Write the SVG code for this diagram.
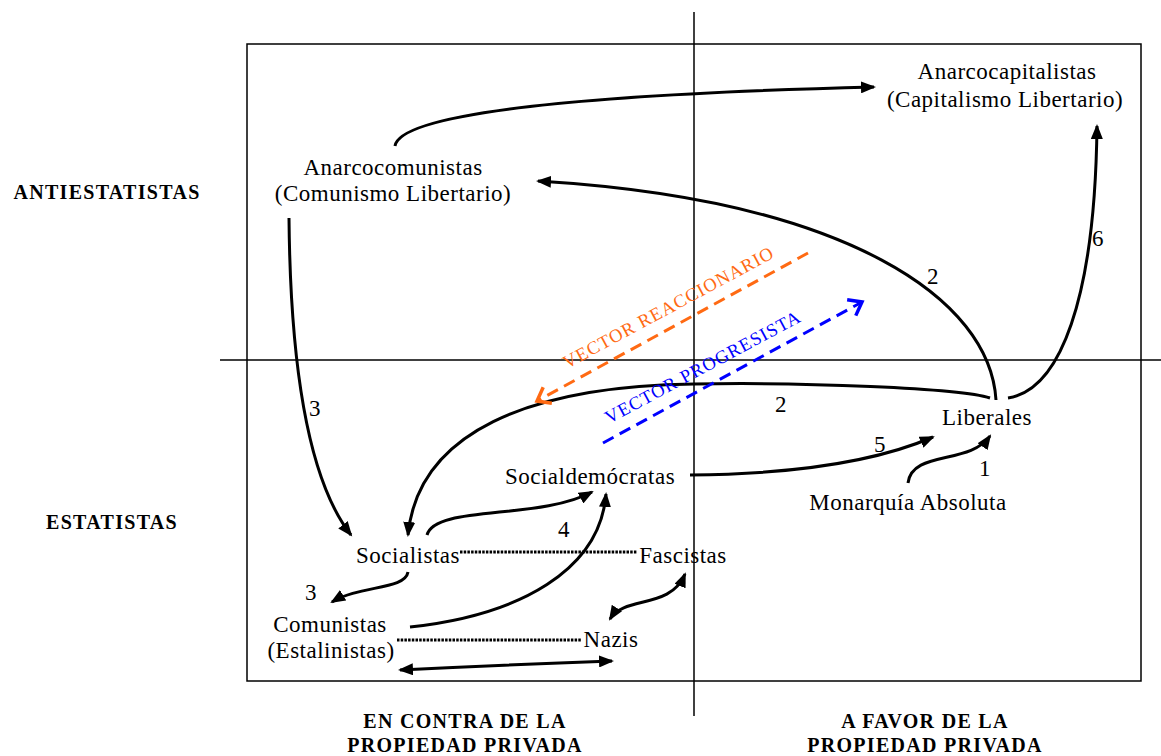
<svg xmlns="http://www.w3.org/2000/svg" width="1161" height="756" viewBox="0 0 1161 756">
<style>
.t{font-family:"Liberation Serif","Times New Roman",serif;font-size:23px;letter-spacing:0.5px;fill:#000;text-anchor:middle}
.b{font-family:"Liberation Serif","Times New Roman",serif;font-size:20px;font-weight:bold;letter-spacing:1.3px;fill:#000;text-anchor:middle}
.v{font-family:"Liberation Serif","Times New Roman",serif;font-size:18.5px;letter-spacing:1px}
.ax{stroke:#000;stroke-width:1.5;fill:none}
.a{stroke:#000;stroke-width:3;fill:none;marker-end:url(#ah)}
.d{stroke:#000;stroke-width:3;fill:none;marker-start:url(#ah);marker-end:url(#ah)}
.dot{stroke:#000;stroke-width:3;stroke-dasharray:2.5 1.2;fill:none}
</style>
<defs>
<marker id="ah" markerUnits="userSpaceOnUse" markerWidth="16" markerHeight="12" refX="13" refY="6" orient="auto-start-reverse">
<path d="M0,0 L15,6 L0,12 z" fill="#000"/>
</marker>
<marker id="co" markerUnits="userSpaceOnUse" markerWidth="18" markerHeight="22" refX="14" refY="11" orient="auto">
<path d="M2,2 L14,11 L2,20" fill="none" stroke="#FF6A13" stroke-width="3.5"/>
</marker>
<marker id="cb" markerUnits="userSpaceOnUse" markerWidth="18" markerHeight="22" refX="14" refY="11" orient="auto">
<path d="M2,2 L14,11 L2,20" fill="none" stroke="#0000FF" stroke-width="3.5"/>
</marker>
</defs>
<rect width="1161" height="756" fill="#fff"/>
<g id="frame">
<rect x="247" y="44" width="894" height="637" class="ax"/>
<line x1="694" y1="12" x2="694" y2="716" class="ax"/>
<line x1="220" y1="360" x2="1161" y2="360" class="ax"/>
</g>
<g id="axis-labels">
<text class="b" x="107" y="199">ANTIESTATISTAS</text>
<text class="b" x="112" y="529">ESTATISTAS</text>
<text class="b" x="465" y="728">EN CONTRA DE LA</text>
<text class="b" x="465" y="752">PROPIEDAD PRIVADA</text>
<text class="b" x="925" y="728">A FAVOR DE LA</text>
<text class="b" x="925" y="752">PROPIEDAD PRIVADA</text>
</g>
<g id="connectors">
<path class="a" d="M395,146 C400,115 560,95 874,87"/>
<path class="a" d="M996,400 C990,300 850,200 538,181"/>
<path class="a" d="M1008,398 C1060,390 1095,300 1097,126"/>
<path class="a" d="M990,398 C960,388 800,382 694,384 C530,386 418,432 408,535"/>
<path class="a" d="M289,218 C290,330 300,470 351,535"/>
<path class="a" d="M408,572 C405,590 360,585 332,602"/>
<path class="a" d="M427,535 C435,505 540,520 592,492"/>
<path class="a" d="M410,627 C520,615 600,570 606,494"/>
<path class="a" d="M690,475 C800,474 880,460 933,437"/>
<path class="a" d="M908,483 C912,450 970,465 990,436"/>
<path class="d" d="M610,619 C625,595 670,610 685,574"/>
<path class="d" d="M400,670 Q500,665 612,661"/>
<line class="dot" x1="460" y1="552" x2="637" y2="552"/>
<line class="dot" x1="397" y1="640" x2="582" y2="640"/>
<line x1="808" y1="253" x2="537" y2="401" stroke="#FF6A13" stroke-width="3" stroke-dasharray="12 7" marker-end="url(#co)"/>
<line x1="603" y1="443" x2="862" y2="302" stroke="#0000FF" stroke-width="3" stroke-dasharray="12 7" marker-end="url(#cb)"/>
</g>
<g id="connector-labels">
<text class="t" x="315" y="416">3</text>
<text class="t" x="311" y="600">3</text>
<text class="t" x="564" y="537">4</text>
<text class="t" x="781" y="412">2</text>
<text class="t" x="933" y="284">2</text>
<text class="t" x="1098" y="246">6</text>
<text class="t" x="880" y="452">5</text>
<text class="t" x="985" y="476">1</text>
<text class="v" fill="#FF6A13" transform="translate(567,369) rotate(-28.3)">VECTOR REACCIONARIO</text>
<text class="v" fill="#0000FF" transform="translate(609,424) rotate(-28.1)">VECTOR PROGRESISTA</text>
</g>
<g id="anarcocapitalistas"><text class="t" x="1007" y="79">Anarcocapitalistas</text><text class="t" x="1005" y="107">(Capitalismo Libertario)</text></g>
<g id="anarcocomunistas"><text class="t" x="393" y="175">Anarcocomunistas</text><text class="t" x="393" y="201">(Comunismo Libertario)</text></g>
<g id="liberales"><text class="t" x="987" y="425">Liberales</text></g>
<g id="monarquia"><text class="t" x="908" y="510">Monarquía Absoluta</text></g>
<g id="socialdemocratas"><text class="t" x="590" y="484">Socialdemócratas</text></g>
<g id="socialistas"><text class="t" x="408" y="563">Socialistas</text></g>
<g id="fascistas"><text class="t" x="683" y="563">Fascistas</text></g>
<g id="comunistas"><text class="t" x="330" y="632">Comunistas</text><text class="t" x="331" y="658">(Estalinistas)</text></g>
<g id="nazis"><text class="t" x="611" y="647">Nazis</text></g>
</svg>
